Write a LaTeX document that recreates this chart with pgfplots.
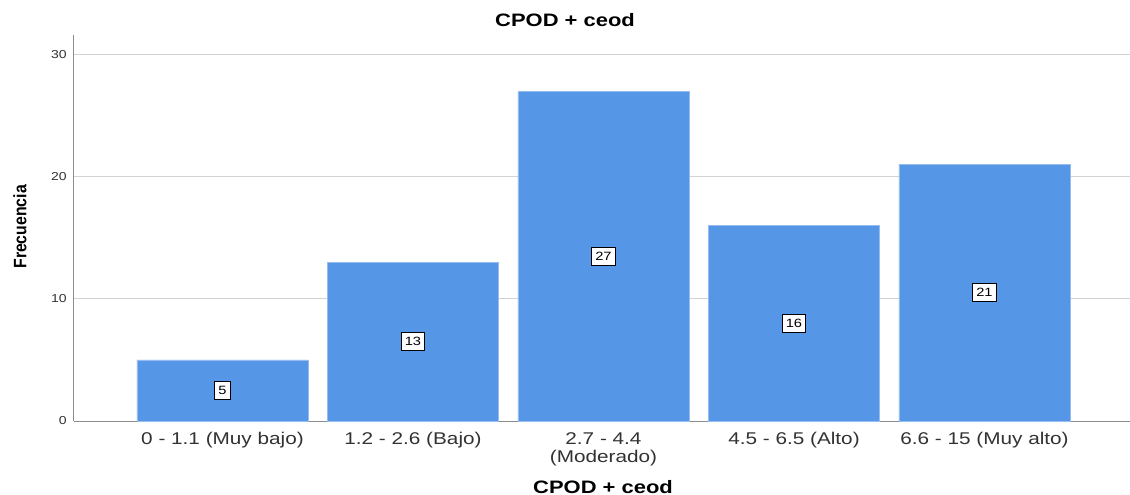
\documentclass[border=0pt]{standalone}
\usepackage{fontspec}
\setmainfont{Liberation Sans}[FakeStretch=1.22]
\newfontfamily\ylabfont{Liberation Sans}[FakeStretch=0.88]
\usepackage{pgfplots}
\usepackage{pgfplotstable}
\pgfplotsset{compat=1.18}

\definecolor{barblue}{RGB}{85,150,230}
\definecolor{baredge}{RGB}{150,188,240}
\definecolor{gridgray}{RGB}{210,210,210}
\definecolor{axisgray}{RGB}{140,140,140}
\definecolor{ticktext}{RGB}{50,50,50}

\pgfplotstableread{
x y
0 5
1 13
2 27
3 16
4 21
}\freq

\begin{document}
\begin{tikzpicture}
\begin{axis}[
    name=ax,
    scale only axis,
    width=1056bp, height=386bp,
    xmin=-0.7795, xmax=4.764,
    ymin=0, ymax=31.6,
    axis x line*=bottom,
    axis y line*=left,
    axis line style={axisgray, line width=1bp, -},
    major tick length=0pt,
    ymajorgrids,
    grid style={gridgray, line width=1bp},
    ytick={0,10,20,30},
    xtick={0,1,2,3,4},
    xticklabels={0 - 1.1 (Muy bajo), 1.2 - 2.6 (Bajo), {2.7 - 4.4\\(Moderado)}, 4.5 - 6.5 (Alto), 6.6 - 15 (Muy alto)},
    /pgf/number format/assume math mode=true,
    yticklabel style={font=\fontsize{11.5bp}{13bp}\selectfont, text=ticktext, anchor=east, inner sep=0pt, xshift=-7bp},
    xticklabel style={font=\fontsize{17bp}{18bp}\selectfont, text=ticktext, anchor=north, align=center, inner sep=0pt, yshift=-11bp},
    title={CPOD + ceod},
    title style={font=\fontsize{18bp}{20bp}\selectfont\bfseries, at={(axis description cs:0.465,1)}, anchor=center, yshift=9bp},
    xlabel={CPOD + ceod},
    xlabel style={font=\fontsize{18bp}{20bp}\selectfont\bfseries, at={(axis description cs:0.501,0)}, anchor=center, yshift=-66bp},
    ylabel={Frecuencia},
    ylabel style={font=\fontsize{18bp}{20bp}\selectfont\ylabfont\bfseries, at={(axis description cs:0,0.503)}, anchor=center, yshift=54bp},
]
\addplot[ybar, bar width=0.8976, fill=barblue, draw=baredge, line width=0.8bp]
    table[x=x, y=y] {\freq};
\addplot[only marks, mark=none, point meta=explicit symbolic,
    nodes near coords,
    every node near coord/.style={anchor=center, fill=white, draw=black, line width=0.9bp,
        inner xsep=3.5bp, inner ysep=3.5bp, minimum height=18bp,
        font=\fontsize{12bp}{13bp}\selectfont}]
    table[x=x, y expr=\thisrow{y}/2, meta=y] {\freq};
\end{axis}
\pgfresetboundingbox
\path (ax.south west) ++(-74bp,-74bp) rectangle ++(1130bp,495bp);
\end{tikzpicture}
\end{document}
